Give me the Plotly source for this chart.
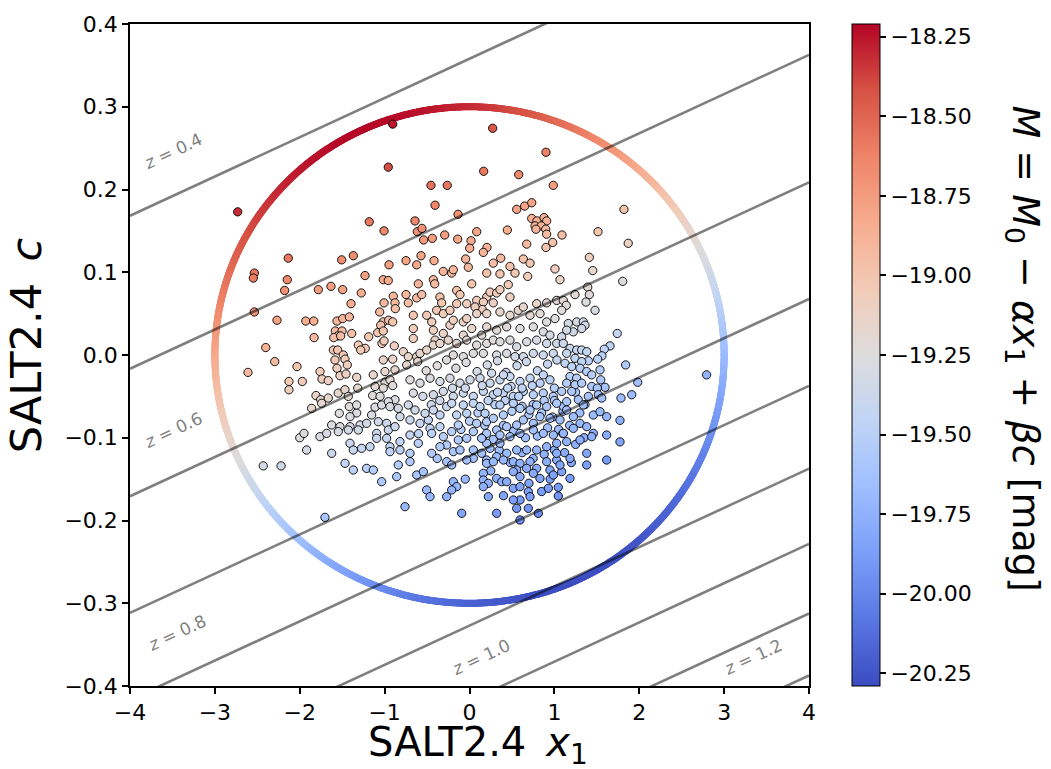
import numpy as np
import plotly.graph_objects as go

# ---------------- data ----------------
# SN Ia light-curve parameters (SALT2.4 x1, c), grouped by region of the plot
sn_top = [(-0.905,0.279),(-0.957,0.227),(-2.731,0.173),(-1.181,0.161),(-1.007,0.150),(-2.135,0.117),(-1.506,0.115),(-1.369,0.120),
(0.273,0.274),(0.901,0.245),(0.167,0.222),(0.580,0.218),(-0.454,0.205),(-0.262,0.205),(0.987,0.205),(-0.406,0.181),(0.556,0.176),
(0.650,0.180),(0.733,0.184),(-0.135,0.170),(-0.642,0.162),(-0.615,0.149),(-0.560,0.153),(-0.540,0.139),(-0.438,0.141),(-0.292,0.145),
(-0.139,0.140),(0.018,0.138),(0.085,0.149),(0.002,0.129),(0.206,0.130),(0.163,0.124),(0.446,0.151),(0.733,0.165),(0.795,0.162),
(0.878,0.166),(0.909,0.162),(0.772,0.156),(0.846,0.156),(0.898,0.152),(0.783,0.152),(0.909,0.146),(1.090,0.145),(0.980,0.136),
(0.901,0.130),(0.674,0.134),(1.514,0.149),(1.412,0.118),(-0.571,0.120),(-0.418,0.114),(-0.045,0.116),(0.368,0.117),(0.634,0.116),
(1.82,0.176),(1.87,0.135)]

sn_left = [(-2.535,0.099),(-2.547,0.093),(-2.147,0.091),(-2.178,0.078),(-2.535,0.052),(-2.268,0.042),(-1.929,0.041),(-1.835,0.041),
(-1.831,0.021),(-2.401,0.009),(-2.295,-0.008),(-2.610,-0.021),(-2.032,-0.014),(-2.127,-0.032),(-1.970,-0.032),(-2.127,-0.042),
(-1.781,0.079),(-1.632,0.083),(-1.494,0.079),(-1.275,0.075),(-1.231,0.096),(-1.016,0.091),(-0.957,0.090),(-0.948,0.109),(-1.396,0.062),
(-1.561,0.041),(-1.494,0.044),(-1.416,0.046),(-0.898,0.071),(-0.878,0.063),(-0.874,0.056),(-1.007,0.063),(-1.058,0.052),(-1.016,0.040),
(-0.952,0.042),(-0.905,0.040),(-1.046,0.036),(-1.082,0.027),(-1.016,0.029),(-1.581,0.029),(-1.502,0.029),(-1.553,0.023),(-1.600,0.021),
(-1.518,0.023),(-1.388,0.026),(-1.310,0.012),(-1.228,0.008),(-1.282,0.006),(-1.188,0.022),(-1.031,0.014),(-1.007,0.017),(-0.886,0.011),
(-1.604,0.006),(-1.553,0.006),(-1.487,0.000),(-1.467,-0.005),(-1.585,-0.006),(-1.440,-0.012),(-1.561,-0.016),(-1.526,-0.025),
(-1.455,-0.023),(-1.329,-0.027),(-1.761,-0.020),(-1.738,-0.029),(-1.664,-0.031),(-1.809,-0.049),(-1.753,-0.054),(-1.664,-0.052),
(-1.547,-0.046),(-1.467,-0.042),(-1.428,-0.050),(-1.329,-0.070),(-1.317,-0.040),(-1.134,-0.024),(-1.113,-0.038),(-0.996,-0.033),
(-1.016,-0.040),(-0.937,-0.030),(-0.905,-0.037),(-1.016,-0.006),(-0.905,-0.005),(-0.878,-0.018),(-0.996,-0.020),(-1.141,-0.049),
(-1.054,-0.050),(-1.113,-0.063),(-0.878,-0.054),(-2.43,-0.134),(-2.22,-0.134),(-2.0,-0.100)]

sn_center = [(-0.748,0.114),(-0.622,0.109),(-0.309,0.101),(-0.210,0.099),(-0.191,0.103),(-0.014,0.106),(0.203,0.099),(0.280,0.111),
(0.359,0.098),(0.477,0.107),(0.536,0.099),(0.713,0.111),(0.686,0.095),(1.007,0.104),
(-0.748,0.073),(-0.721,0.063),(-0.603,0.086),(-0.622,0.069),(-0.563,0.073),(-0.426,0.091),(-0.410,0.086),(-0.348,0.070),(-0.328,0.063),
(-0.387,0.054),(-0.151,0.078),(-0.112,0.073),(0.026,0.086),(-0.151,0.062),(-0.033,0.062),(0.085,0.066),(0.203,0.070),(0.242,0.076),
(0.320,0.075),(0.359,0.079),(0.457,0.085),(0.280,0.063),(0.163,0.064),(0.150,0.055),(0.065,0.058),(0.477,0.070),(0.791,0.062),
(0.909,0.063),(1.027,0.066),
(-0.662,0.048),(-0.662,0.032),(-0.662,0.020),(-0.504,0.048),(-0.445,0.040),(-0.426,0.030),(-0.309,0.050),(-0.230,0.054),(-0.230,0.036),
(-0.191,0.042),(-0.073,0.040),(-0.033,0.044),(0.026,0.032),(0.085,0.050),(0.203,0.050),(0.359,0.052),(0.477,0.048),(0.575,0.054),
(0.634,0.058),(0.713,0.048),(0.831,0.050),(0.909,0.040),(1.007,0.044),(0.595,0.032),(0.752,0.034),(0.869,0.028),(0.948,0.024),
(0.320,0.030),(0.438,0.034),(0.203,0.034),(0.144,0.024),(-0.073,0.024),(-0.309,0.026),(-0.406,0.018),
(-0.780,0.004),(-0.721,-0.002),(-0.622,-0.002),(-0.583,0.002),(-0.504,0.006),(-0.426,0.012),(-0.348,0.014),(-0.250,0.018),(-0.151,0.014),
(-0.033,0.018),(0.085,0.012),(0.203,0.014),(0.280,0.018),(0.359,0.016),(0.477,0.018),(0.556,0.010),(0.674,0.016),(0.791,0.018),
(0.909,0.014),(1.027,0.014),(-0.191,0.000),(-0.073,-0.002),(0.045,0.002),(0.163,0.002),(0.320,0.000),(0.438,0.002),(0.536,-0.002),
(0.634,-0.002),(0.752,0.002),(0.869,0.000),(0.987,0.002),
(-0.74,-0.012),(-0.61,-0.008),(-0.51,-0.019),(-0.38,-0.013),(-0.27,-0.006),(-0.16,-0.016),(-0.04,-0.009),(0.09,-0.020),(0.21,-0.012),
(0.33,-0.007),(0.43,-0.021),(0.56,-0.013),(0.67,-0.008),(0.80,-0.019),(0.92,-0.011),(1.03,-0.006),
(-0.701,-0.030),(-0.583,-0.034),(-0.465,-0.028),(-0.348,-0.032),(-0.230,-0.028),(-0.112,-0.034),(0.006,-0.030),(0.124,-0.028),
(0.242,-0.034),(0.359,-0.030),(0.477,-0.026),(0.595,-0.032),(0.713,-0.028),(0.831,-0.034),(0.948,-0.030),
(-0.662,-0.046),(-0.426,-0.048),(-0.309,-0.044),(-0.191,-0.050),(-0.073,-0.046),(0.045,-0.050),(0.163,-0.044),(0.280,-0.048),
(0.398,-0.046),(0.516,-0.050),(0.634,-0.044),(0.752,-0.048),(0.869,-0.046),(0.987,-0.050),
(0.26,-0.022),(0.49,-0.038),(0.62,-0.040),(0.74,-0.037),(0.87,-0.024),(1.00,-0.040),(0.40,-0.024),(0.15,-0.037)]

sn_dense = [(0.30,-0.060),(0.42,-0.055),(0.50,-0.068),(0.62,-0.062),(0.70,-0.072),(0.85,-0.070),(0.98,-0.075),(1.10,-0.068),
(1.18,-0.085),(1.05,-0.090),(0.92,-0.088),(0.80,-0.098),(0.66,-0.100),(0.52,-0.092),(0.40,-0.085),(0.28,-0.102),(0.18,-0.085),
(0.10,-0.070),(0.62,-0.118),(0.75,-0.125),(0.88,-0.120),(1.00,-0.115),(1.12,-0.118),(1.25,-0.108),(1.35,-0.100),(1.30,-0.070),
(1.40,-0.050),(1.25,-0.045),(1.00,-0.055),(0.88,-0.055),(0.75,-0.060),(0.58,-0.050),(0.45,-0.040),(0.33,-0.045),(0.22,-0.055),
(-0.05,-0.040),(-0.20,-0.040),(-0.35,-0.055),(-0.55,-0.050),(-0.45,-0.060),(0.00,-0.080),(-0.10,-0.090),(0.15,-0.100),(0.35,-0.115),
(0.48,-0.130),(0.70,-0.155),(0.85,-0.165),(0.40,-0.170),(1.10,-0.095),(1.20,-0.130),(0.95,-0.150),(0.25,-0.140),(-0.05,-0.150),
(-0.38,-0.125),(-0.60,-0.095)]

sn_right = [(1.452,0.102),(1.805,0.089),(1.066,0.091),(1.393,0.082),(1.412,0.073),(1.243,0.073),(1.373,0.064),(1.105,0.066),(1.14,0.060),
(1.086,0.054),(1.479,0.054),(1.164,0.038),(1.263,0.040),(1.341,0.040),(1.361,0.036),(1.322,0.032),(1.223,0.028),(1.145,0.030),
(1.741,0.026),(1.086,0.022),(1.105,0.014),(1.184,0.008),(1.263,0.006),(1.322,0.006),(1.381,0.004),(1.145,0.002),(1.243,-0.004),
(1.655,0.011),(1.588,0.007),(1.56,-0.001),(1.510,-0.005),(1.400,-0.007),(1.322,-0.008),(1.125,-0.010),(1.204,-0.014),(1.302,-0.016),
(1.381,-0.020),(1.440,-0.024),(1.840,-0.012),(1.538,-0.018),(2.794,-0.024),(1.184,-0.026),(1.263,-0.028),(1.145,-0.034),(1.243,-0.036),
(1.322,-0.034),(1.546,-0.030),(1.440,-0.038),(1.597,-0.039),(1.506,-0.040),(1.982,-0.033),(1.086,-0.044),(1.204,-0.044),(1.282,-0.054),
(1.105,-0.062),(1.361,-0.060),(1.518,-0.048),(1.558,-0.052),(1.911,-0.048),(1.785,-0.052),(1.773,-0.079),(1.773,-0.105)]

sn_bottom = [(-1.860,-0.0645),(-1.742,-0.0584),(-1.416,-0.0624),(-1.330,-0.0604),(-1.534,-0.0705),(-1.408,-0.0745),(-1.153,-0.0725),
(-1.035,-0.0604),(-0.956,-0.0564),(-0.937,-0.0624),(-1.624,-0.0846),(-1.526,-0.0866),(-1.408,-0.0866),(-1.290,-0.0846),(-1.212,-0.0826),
(-1.074,-0.0806),(-0.976,-0.0826),(-1.950,-0.0947),(-1.762,-0.0987),(-1.683,-0.0947),(-1.546,-0.0926),(-1.428,-0.0906),(-1.310,-0.0906),
(-1.094,-0.0947),(-0.956,-0.0906),(-0.878,-0.0866),(-0.819,-0.0745),(-0.839,-0.0645),(-0.721,-0.0604),(-0.642,-0.0665),(-0.701,-0.0785),
(-0.583,-0.0826),(-0.485,-0.0785),(-0.524,-0.0705),(-0.426,-0.0665),(-0.348,-0.0725),(-0.269,-0.0624),(-0.210,-0.0584),(-1.919,-0.1148),
(-1.624,-0.1188),(-1.408,-0.1067),(-1.369,-0.1148),(-1.271,-0.1128),(-1.172,-0.1108),(-1.094,-0.1007),(-0.976,-0.1007),(-0.937,-0.1108),
(-0.819,-0.1047),(-0.701,-0.0967),(-0.603,-0.1067),(-0.465,-0.0886),(-0.446,-0.0947),(-0.348,-0.0866),(-0.308,-0.0987),(-0.210,-0.0926),
(-0.132,-0.0846),(-0.151,-0.0725),(-0.033,-0.0705),(-0.073,-0.0604),(0.045,-0.0584),(0.124,-0.0624),(0.183,-0.0705),(0.084,-0.0826),
(0.202,-0.0806),(0.281,-0.0765),(0.399,-0.0725),(0.359,-0.0604),(0.516,-0.0584),(0.595,-0.0645),(0.713,-0.0665),(0.791,-0.0604),
(0.909,-0.0624),(1.027,-0.0584),(1.145,-0.0564),(1.341,-0.0604),(1.459,-0.0725),(1.538,-0.0685),(1.616,-0.0745),(1.145,-0.0665),
(1.224,-0.0745),(1.066,-0.0785),(0.948,-0.0765),(0.830,-0.0745),(0.752,-0.0826),(0.634,-0.0785),(0.556,-0.0846),(0.438,-0.0866),
(0.320,-0.0906),(0.202,-0.0947),(0.045,-0.0926),(-0.033,-0.1007),(-0.132,-0.1027),(-0.269,-0.1088),(-0.348,-0.1108),(-0.190,-0.1168),
(-0.112,-0.1148),(0.045,-0.1148),(0.143,-0.1188),(0.242,-0.1128),(0.359,-0.1067),(0.477,-0.0987),(0.595,-0.0947),(0.752,-0.0906),
(0.870,-0.0947),(0.988,-0.0967),(1.106,-0.0947),(1.224,-0.0886),(1.302,-0.0826),(1.381,-0.0866),(1.459,-0.0947),(1.616,-0.0967),
(1.440,-0.0987),(1.302,-0.1027),(1.145,-0.1047),(1.027,-0.1067),(0.909,-0.1108),(0.791,-0.1148),(0.673,-0.1148),(0.556,-0.1148),
(0.438,-0.1188),(0.320,-0.1229),(0.202,-0.1269),(0.045,-0.1249),(-0.033,-0.1269),(-0.269,-0.1289),(-0.210,-0.1329),(-0.446,-0.1188),
(-0.701,-0.1188),(-0.819,-0.1148),(-0.937,-0.1168),(-1.467,-0.1309),(-1.369,-0.1390),(-1.212,-0.1370),(-1.133,-0.1390),(-0.839,-0.1329),
(-0.701,-0.1289),(0.202,-0.1309),(0.281,-0.1289),(0.399,-0.1269),(0.516,-0.1289),(0.595,-0.1309),(0.713,-0.1289),(0.791,-0.1370),
(0.909,-0.1289),(1.027,-0.1269),(1.184,-0.1249),(1.381,-0.1329),(1.616,-0.1269),(1.381,-0.1188),(1.027,-0.1188),(0.673,-0.1370),
(0.556,-0.1390),(0.516,-0.1410),(0.595,-0.1470),(0.752,-0.1430),(0.830,-0.1491),(0.948,-0.1390),(0.988,-0.1450),(1.086,-0.1410),
(1.184,-0.1491),(1.066,-0.1329),(0.163,-0.1430),(0.163,-0.1511),(0.222,-0.1551),(0.320,-0.1491),(0.379,-0.1531),(0.438,-0.1531),
(0.163,-0.1591),(-0.190,-0.1531),(-0.151,-0.1591),(-0.210,-0.1631),(-0.269,-0.1712),(-0.505,-0.1631),(-0.465,-0.1712),(-0.622,-0.1450),
(-0.544,-0.1410),(-0.858,-0.1470),(-1.035,-0.1531),(0.222,-0.1712),(0.516,-0.1611),(0.595,-0.1591),(0.693,-0.1652),(0.713,-0.1712),
(0.595,-0.1752),(0.516,-0.1752),(0.929,-0.1611),(1.046,-0.1599),(1.046,-0.1704),(0.556,-0.1853),(0.693,-0.1853),(0.811,-0.1913),
(0.595,-0.1994),(0.320,-0.1913),(-0.092,-0.1913),(-0.760,-0.1833),(-1.703,-0.1962),(0.202,-0.1067),(0.143,-0.1007),(0.359,-0.0967)]

# magnitude model shown on the colour bar: M = M0 - alpha*x1 + beta*c
M0 = -19.25
alpha = 0.147
beta = 3.1
cbar_min, cbar_max = -20.29, -18.21
cbar_ticks = [-20.25, -20.00, -19.75, -19.50, -19.25, -19.00, -18.75, -18.50, -18.25]

# ellipse marking the sampled region (centre 0,0; half-widths 3 in x1, 0.3 in c)
ell_rx, ell_rc = 3.0, 0.3

# iso-magnitude (redshift-limit) lines: c = c_at_x1_zero + (alpha/beta) * x1
z_levels = [0.4, 0.5, 0.6, 0.7, 0.8, 0.9, 1.0, 1.1, 1.2]
c_at_x1_zero = [0.358, 0.173, 0.019, -0.122, -0.227, -0.327, -0.418, -0.502, -0.577]
labelled_z = [0.4, 0.6, 0.8, 1.0, 1.2]
label_x1 = [-3.49, -3.49, -3.45, 0.14, 3.34]
label_c = [0.2465, -0.0906, -0.336, -0.365, -0.365]

x_ticks = [-4, -3, -2, -1, 0, 1, 2, 3, 4]
y_ticks = [-0.4, -0.3, -0.2, -0.1, 0.0, 0.1, 0.2, 0.3, 0.4]

# --------------------------------------------------------------
coolwarm = [[0.0, "#3b4cc0"], [0.1, "#5977e3"], [0.2, "#7b9ff9"], [0.3, "#9ebeff"], [0.4, "#c0d4f5"],
            [0.5, "#dddcdc"], [0.6, "#f2cbb7"], [0.7, "#f7ac8e"], [0.8, "#ee8468"], [0.9, "#d65244"], [1.0, "#b40426"]]

def minus(s):
    return s.replace("-", "\u2212")

pts = sn_top + sn_left + sn_center + sn_dense + sn_right + sn_bottom
x1 = np.array([p[0] for p in pts])
cc = np.array([p[1] for p in pts])
M_pts = M0 - alpha * x1 + beta * cc

t = np.linspace(0, 2 * np.pi, 1800)
ex = ell_rx * np.cos(t)
ec = ell_rc * np.sin(t)
M_ell = M0 - alpha * ex + beta * ec

fig = go.Figure()
fig.add_trace(go.Scatter(x=ex, y=ec, mode="markers", hoverinfo="skip",
                         marker=dict(size=7, color=M_ell, coloraxis="coloraxis", line=dict(width=0))))
fig.add_trace(go.Scatter(x=x1, y=cc, mode="markers",
                         marker=dict(size=8.3, color=M_pts, coloraxis="coloraxis",
                                     line=dict(color="black", width=0.9))))
slope = alpha / beta
for c0 in c_at_x1_zero:
    xs = np.array([-4.0, 4.0])
    fig.add_trace(go.Scatter(x=xs, y=c0 + slope * xs, mode="lines", hoverinfo="skip",
                             line=dict(color="rgba(0,0,0,0.5)", width=2.6)))

ann = []
for z, lx, lc in zip(labelled_z, label_x1, label_c):
    ann.append(dict(x=lx, y=lc, xref="x", yref="y", text=f"<i>z</i> = {z:.1f}", showarrow=False,
                    textangle=-25, font=dict(size=17, color="rgb(128,128,128)", family="DejaVu Sans")))
ann.append(dict(x=0.512, y=-0.089, xref="paper", yref="paper",
                text="SALT2.4\u2002<i>x</i><sub>1</sub>",
                showarrow=False, xanchor="center", yanchor="middle",
                font=dict(size=40, color="black", family="DejaVu Sans")))
ann.append(dict(x=-0.153, y=0.515, xref="paper", yref="paper", text="SALT2.4\u2002<i>c</i>",
                showarrow=False, textangle=-90, xanchor="center", yanchor="middle",
                font=dict(size=43, color="black", family="DejaVu Sans")))
ann.append(dict(x=1.3166, y=0.51, xref="paper", yref="paper",
                text="<i>M</i> = <i>M</i><sub>0</sub> \u2212 <i>αx</i><sub>1</sub> + <i>βc</i> [mag]",
                showarrow=False, textangle=90, xanchor="center", yanchor="middle",
                font=dict(size=38, color="black", family="DejaVu Sans")))

axis_common = dict(showline=True, linecolor="black", linewidth=1.5, mirror=True, ticks="outside",
                   ticklen=6, tickwidth=1.5, tickcolor="black", showgrid=False, zeroline=False,
                   tickfont=dict(size=22, color="black", family="DejaVu Sans"))
fig.update_layout(
    width=1051, height=769,
    margin=dict(l=130, r=242, t=24, b=83),
    paper_bgcolor="white", plot_bgcolor="white",
    showlegend=False,
    font=dict(family="DejaVu Sans", color="black"),
    xaxis=dict(range=[-4, 4], tickvals=x_ticks, ticktext=[minus(str(v)) for v in x_ticks], **axis_common),
    yaxis=dict(range=[-0.4, 0.4], tickvals=y_ticks, ticktext=[minus(f"{v:.1f}") for v in y_ticks], **axis_common),
    coloraxis=dict(colorscale=coolwarm, cmin=cbar_min, cmax=cbar_max,
                   colorbar=dict(x=1.0633, xanchor="left", xpad=0, y=0.5, yanchor="middle", ypad=0,
                                 len=1.0, lenmode="fraction", thickness=28, thicknessmode="pixels",
                                 outlinewidth=1, outlinecolor="black", ticks="outside", ticklen=6,
                                 tickwidth=1.5, tickcolor="black",
                                 tickvals=cbar_ticks, ticktext=[minus(f"{v:.2f}") for v in cbar_ticks],
                                 tickfont=dict(size=22, color="black", family="DejaVu Sans"))),
    annotations=ann,
)
fig.write_html("out.html")
